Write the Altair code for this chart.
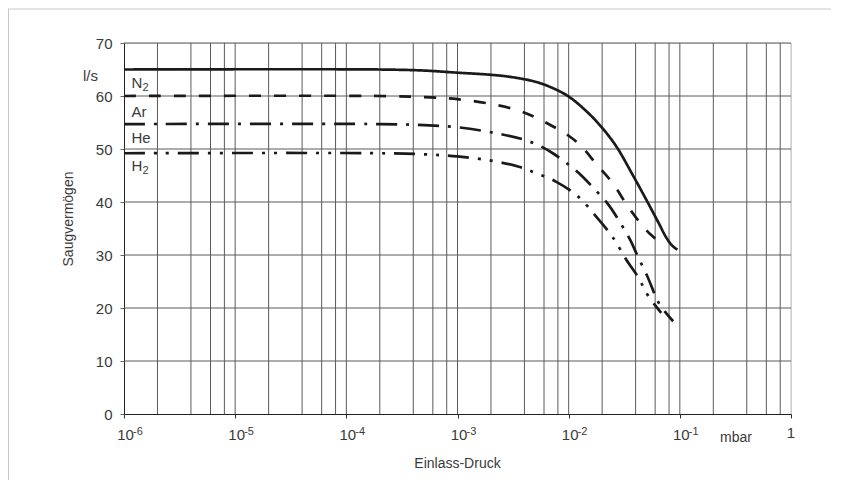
import altair as alt
import pandas as pd

# ---------------- data ----------------
gases = ["N2", "Ar", "He", "H2"]

n2_p = [1e-6, 2e-4, 5e-4, 1e-3, 2e-3, 3e-3, 5e-3, 7e-3, 1e-2, 1.5e-2, 2e-2, 2.7e-2, 3.7e-2, 5e-2, 6.5e-2, 7.5e-2, 8.5e-2, 9.5e-2]
n2_s = [65, 65, 64.8, 64.4, 64.0, 63.6, 62.7, 61.6, 59.9, 56.8, 54.0, 50.4, 45.4, 40.4, 35.9, 33.4, 31.8, 31.0]

ar_p = [1e-6, 2e-4, 5e-4, 1e-3, 2e-3, 3.5e-3, 5e-3, 7.6e-3, 1e-2, 1.3e-2, 1.8e-2, 2.5e-2, 3.4e-2, 4.5e-2, 5.5e-2, 6.5e-2, 7.2e-2]
ar_s = [60, 60, 59.8, 59.4, 58.5, 57.3, 56.0, 54.0, 52.5, 50.5, 47.0, 43.5, 39.2, 35.8, 33.8, 32.6, 32.3]

he_p = [1e-6, 2e-4, 5e-4, 1e-3, 2.2e-3, 3.9e-3, 5.5e-3, 7.2e-3, 9.5e-3, 1.26e-2, 1.63e-2, 2.26e-2, 2.83e-2, 3.55e-2, 4.17e-2, 5.1e-2, 6.05e-2, 6.7e-2, 8.7e-2]
he_s = [54.7, 54.7, 54.5, 54.1, 53.0, 51.8, 50.6, 49.2, 47.4, 45.3, 42.9, 39.6, 36.5, 33.0, 29.8, 26.0, 22.2, 20.4, 17.5]

h2_p = [1e-6, 2e-4, 5e-4, 1e-3, 2e-3, 3.5e-3, 5e-3, 7.6e-3, 1.19e-2, 1.76e-2, 2.33e-2, 2.67e-2, 3.3e-2, 4.25e-2, 4.74e-2, 5.34e-2, 6.8e-2]
h2_s = [49.2, 49.2, 49.0, 48.6, 47.8, 46.7, 45.5, 43.9, 41.2, 37.3, 34.2, 32.4, 29.1, 25.7, 23.8, 21.9, 19.1]

dash_patterns = [[1, 0], [12, 13], [21, 9, 3, 9], [21, 9, 3, 9, 3, 9]]

x_grid = [2e-6, 4e-6, 6e-6, 8e-6,
          1e-5, 2e-5, 4e-5, 6e-5, 8e-5,
          1e-4, 2e-4, 4e-4, 6e-4, 8e-4,
          1e-3, 2e-3, 4e-3, 6e-3, 8e-3,
          1e-2, 2e-2, 4e-2, 6e-2, 8e-2,
          1e-1, 2e-1, 4e-1, 6e-1, 8e-1]
x_edge = [1]
y_grid = [10, 20, 30, 40, 50, 60, 70]
y_ticks = [0, 10, 20, 30, 40, 50, 60, 70]

decades = [1e-6, 1e-5, 1e-4, 1e-3, 1e-2, 1e-1]
exponents = ["-6", "-5", "-4", "-3", "-2", "-1"]

label_main = ["N", "Ar", "He", "H"]
label_sub = ["2", "", "", "2"]
label_x = [1.166e-6, 1.166e-6, 1.166e-6, 1.166e-6]
label_y = [61.6, 56.1, 51.2, 45.9]

# ---------------- tables ----------------
rows = []
for g, ps, ss in [("N2", n2_p, n2_s), ("Ar", ar_p, ar_s), ("He", he_p, he_s), ("H2", h2_p, h2_s)]:
    for p, s in zip(ps, ss):
        rows.append({"gas": g, "x": p, "y": s})
curves = pd.DataFrame(rows)

W, H = 667, 371
FONT = "Liberation Sans"
TXT = "#3a3a3a"

xscale = alt.Scale(type="log", domain=[1e-6, 1], nice=False)
yscale = alt.Scale(domain=[0, 70], nice=False, zero=True)

xaxis = alt.Axis(values=decades + [1], labels=False, grid=False, ticks=True, tickSize=4,
                 tickColor="#333333", domainColor="#222222", title=None)
yaxis = alt.Axis(values=y_ticks, grid=False, ticks=True, tickSize=4, tickColor="#666666",
                 domainColor="#222222", labelFont=FONT, labelFontSize=15, labelColor=TXT,
                 labelPadding=8, labelBaseline="middle", title=None)


def X():
    return alt.X("x:Q", scale=xscale, axis=xaxis)


def Y():
    return alt.Y("y:Q", scale=yscale, axis=yaxis)


grid_v = alt.Chart(pd.DataFrame({"x": x_grid})).mark_rule(color="#5a5a5a", strokeWidth=1).encode(x=X())
grid_edge = alt.Chart(pd.DataFrame({"x": x_edge})).mark_rule(color="#c0c0c0", strokeWidth=1).encode(x=X())
grid_h = alt.Chart(pd.DataFrame({"y": y_grid})).mark_rule(color="#5a5a5a", strokeWidth=1).encode(y=Y())

lines = alt.Chart(curves).mark_line(strokeWidth=2.7, color="#1a1a1a", interpolate="catmull-rom",
                                    strokeCap="butt").encode(
    x=X(), y=Y(),
    strokeDash=alt.StrokeDash("gas:N", scale=alt.Scale(domain=gases, range=dash_patterns), legend=None),
    detail="gas:N",
)

lab_df = pd.DataFrame({"x": label_x, "y": label_y, "main": label_main, "sub": label_sub})
lab_main = alt.Chart(lab_df).mark_text(align="left", baseline="alphabetic", font=FONT, fontSize=15,
                                       color=TXT).encode(x=X(), y=Y(), text="main:N")
lab_sub = alt.Chart(lab_df).mark_text(align="left", baseline="alphabetic", font=FONT, fontSize=11,
                                      color=TXT, dx=11, dy=3).encode(x=X(), y=Y(), text="sub:N")

dec_df = pd.DataFrame({"x": decades, "e": exponents, "t": ["10"] * len(decades)})
tick_ten = alt.Chart(dec_df).mark_text(align="center", baseline="alphabetic", font=FONT, fontSize=15,
                                       color=TXT, dx=1.5).encode(x=X(), y=alt.value(H + 26), text="t:N")
tick_exp = alt.Chart(dec_df).mark_text(align="left", baseline="alphabetic", font=FONT, fontSize=11,
                                       color=TXT, dx=9).encode(x=X(), y=alt.value(H + 20.5), text="e:N")
one_df = pd.DataFrame({"x": [1], "t": ["1"]})
tick_one = alt.Chart(one_df).mark_text(align="center", baseline="alphabetic", font=FONT, fontSize=15,
                                       color=TXT).encode(x=X(), y=alt.value(H + 23.5), text="t:N")

one = pd.DataFrame({"a": [0]})
mbar = alt.Chart(one).mark_text(text="mbar", align="center", baseline="alphabetic", font=FONT,
                                fontSize=14, color=TXT).encode(x=alt.value(612), y=alt.value(H + 28))
xtitle = alt.Chart(one).mark_text(text="Einlass-Druck", align="center", baseline="alphabetic", font=FONT,
                                  fontSize=14, color=TXT).encode(x=alt.value(W / 2), y=alt.value(H + 54))
ytitle = alt.Chart(one).mark_text(text="Saugvermögen", align="center", baseline="alphabetic", font=FONT,
                                  fontSize=14, color=TXT, angle=270).encode(x=alt.value(-51), y=alt.value(176))
unit = alt.Chart(one).mark_text(text="l/s", align="right", baseline="alphabetic", font=FONT,
                                fontSize=15, color=TXT).encode(x=alt.value(-26), y=alt.value(38))

border_top = alt.Chart(one).mark_rule(color="#c8c8c8", strokeWidth=1).encode(
    x=alt.value(-116), x2=alt.value(W + 40), y=alt.value(-34))
border_left = alt.Chart(one).mark_rule(color="#c8c8c8", strokeWidth=1).encode(
    x=alt.value(-115.5), y=alt.value(-34), y2=alt.value(H + 70))

chart = alt.layer(
    border_top, border_left, grid_v, grid_edge, grid_h, lines, lab_main, lab_sub,
    tick_ten, tick_exp, tick_one, mbar, xtitle, ytitle, unit
).properties(
    width=W, height=H,
    autosize=alt.AutoSizeParams(type="none"),
    padding={"left": 116, "top": 35, "right": 40, "bottom": 66},
).configure_view(stroke=None).configure(background="white")

chart.save("out.html", embed_options={"renderer": "svg", "actions": False})
